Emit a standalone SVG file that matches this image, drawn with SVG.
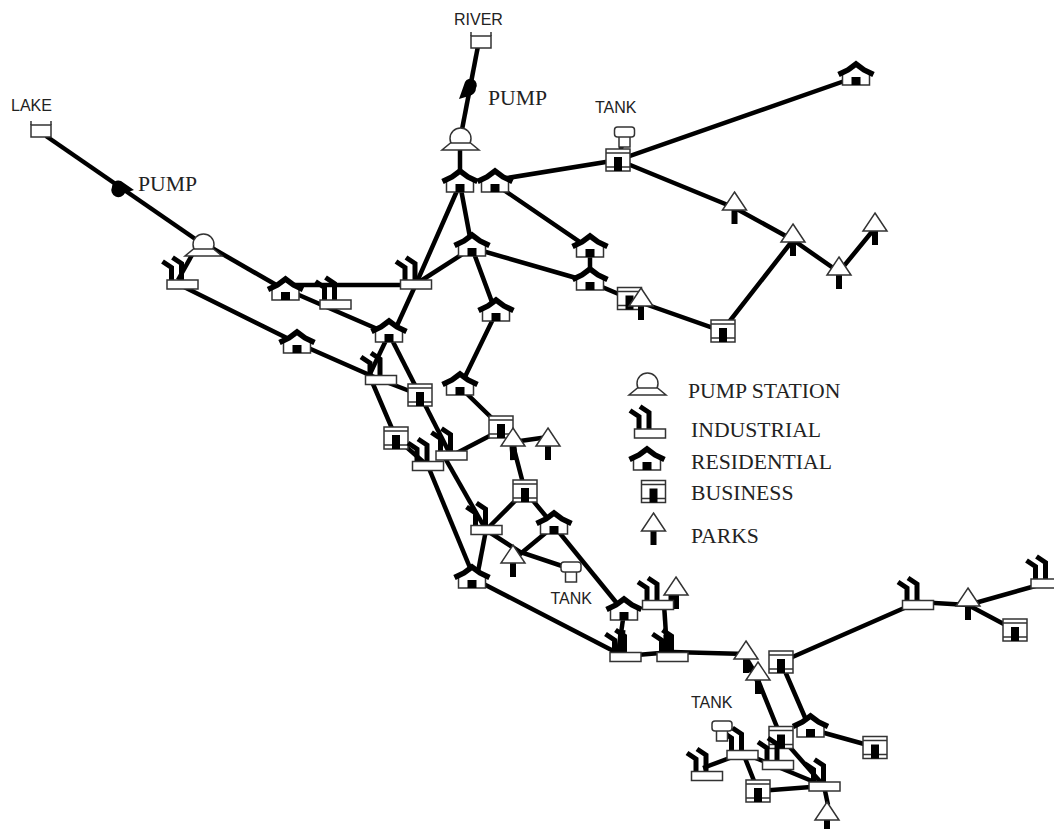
<svg xmlns="http://www.w3.org/2000/svg" width="1054" height="829" viewBox="0 0 1054 829">
<style>
.bg{fill:#fff}
.c{fill:none;stroke:#000;stroke-width:4.5;stroke-linecap:butt}
.w{fill:none;stroke:#000;stroke-width:7}
.o{fill:#fff;stroke:#333;stroke-width:1.5}
.k{fill:#000}
.r{fill:none;stroke:#000;stroke-width:5.5}
.ch{fill:none;stroke:#000;stroke-width:5}
.t{font-family:"Liberation Serif","Times New Roman",serif;font-size:21.7px;fill:#222}
.s{font-family:"Liberation Sans",Arial,sans-serif;font-size:16px;fill:#222}
</style>
<defs>
<g id="house">
<path class="o" d="M-13.5,-4 L0,-13 L13.5,-4 V8 H-13.5 Z"/>
<path class="r" d="M-17.5,-2.5 L-8,-7 L0,-13 L8,-7 L17.5,-2.5"/>
<rect class="k" x="-4.5" y="0" width="9" height="8"/>
</g>
<g id="biz">
<rect class="o" x="-12" y="-11" width="24" height="22"/>
<path class="o" d="M-12,-7 H12 M-12,7 H12" fill="none"/>
<rect class="k" x="-4" y="-3" width="8" height="14"/>
</g>
<g id="park">
<rect class="k" x="-3" y="17" width="6" height="15"/>
<path class="o" d="M0,0 L12,18 H-12 Z"/>
</g>
<g id="ind">
<path class="ch" stroke-width="4" d="M-20,-23 L-11,-17 V-4"/>
<path class="ch" stroke-width="4" d="M-10,-27 L-1,-21 V-4"/>
<rect class="o" x="-15.5" y="-4.5" width="31" height="9"/>
</g>
<g id="station">
<circle class="o" cx="0" cy="-11.5" r="10.5"/>
<path class="o" d="M-10,-7 H10 L18.5,0 H-18.5 Z"/>
</g>
<g id="tank">
<rect class="o" x="-5.5" y="9" width="11" height="11"/>
<rect class="o" x="-10" y="0" width="20" height="10" rx="3"/>
</g>
<g id="source">
<rect class="o" x="-10" y="-6" width="20" height="12"/>
<path class="o" d="M-10,-6 V-10 M10,-6 V-10" fill="none"/>
</g>
</defs>
<rect class="bg" width="1054" height="829"/>
<g id="connectors">
<path class="c" d="M46,136 L204,245"/>
<path class="c" d="M478,46 L460,140"/>
<path class="c" d="M460,150 L460,184"/>
<path class="c" d="M212,248 L285,290"/>
<path class="c" d="M192,255 L178,280"/>
<path class="c" d="M182,286 L297,343 L381,380"/>
<path class="c" d="M285,289 L389,334"/>
<path class="c" d="M290,285 H416"/>
<path class="c" d="M381,380 L420,395"/>
<path class="c" d="M373,384 L396,438 L428,466"/>
<path class="c" d="M389,334 L368,378"/>
<path class="c" d="M389,334 L420,395 L451,456"/>
<path class="c" d="M395,330 L416,284 L460,184"/>
<path class="c" d="M416,284 L472,248"/>
<path class="c" d="M460,184 L472,248"/>
<path class="c" d="M428,466 L473,575"/>
<path class="c" d="M445,458 L486,530"/>
<path class="c" d="M486,530 L477,577"/>
<path class="c" d="M472,578 L625,657"/>
<path class="c" d="M495,180 L618,160 L856,77"/>
<path class="c" d="M622,145 L618,160"/>
<path class="c" d="M618,160 L735,208 L793,240 L839,272 L875,228"/>
<path class="c" d="M495,184 L590,249 L590,282"/>
<path class="c" d="M472,248 L590,282 L628,298 L722,331 L793,240"/>
<path class="c" d="M472,248 L496,313 L460,387 L501,427"/>
<path class="c" d="M501,430 L451,456"/>
<path class="c" d="M513,442 L548,437"/>
<path class="w" d="M513,446 L514,460"/>
<path class="c" d="M513,445 L525,491 L554,526 L513,560"/>
<path class="c" d="M525,491 L486,530"/>
<path class="c" d="M486,530 L520,552 L571,569"/>
<path class="c" d="M554,526 L624,612"/>
<path class="c" d="M624,612 L618,655"/>
<path class="w" d="M622,630 L620,652"/>
<path class="c" d="M664,604 L667,650"/>
<path class="w" d="M667,635 V652"/>
<path class="c" d="M625,656 L672,652 L746,654"/>
<path class="w" d="M672,590 V607"/>
<path class="c" d="M781,662 L918,602 L968,605 L1015,630"/>
<path class="c" d="M968,605 L1046,583"/>
<path class="w" d="M746,660 L758,680"/>
<path class="c" d="M746,660 L758,680 L781,737"/>
<path class="c" d="M781,662 L810,729 L875,747"/>
<path class="c" d="M781,737 L824,786"/>
<path class="c" d="M743,753 L703,768"/>
<path class="c" d="M743,753 L758,791 L824,786"/>
<path class="c" d="M743,753 L778,767 L824,786"/>
<path class="c" d="M824,786 L828,805"/>
</g>
<g id="lake"><use href="#source" x="41" y="131"/></g>
<g id="river"><use href="#source" x="481" y="42"/></g>
<g id="pump1"><path class="k" d="M112,187 a6.5,6.5 0 0 1 9,-6 l13,9 l-9,3 a7,7 0 0 1 -13,-6Z"/></g>
<g id="pump2"><path class="k" d="M476,88 a6,6 0 0 0 -11,-6 l-6,17 l10,-3 a8,8 0 0 0 7,-8Z"/></g>
<g id="st1"><use href="#station" x="203.5" y="256"/></g>
<g id="st2"><use href="#station" x="460.5" y="150"/></g>
<g id="h1"><use href="#house" x="856" y="77"/></g>
<g id="h2"><use href="#house" x="460" y="184"/></g>
<g id="h3"><use href="#house" x="495" y="184"/></g>
<g id="h4"><use href="#house" x="590" y="249"/></g>
<g id="h5"><use href="#house" x="590" y="282"/></g>
<g id="h6"><use href="#house" x="472" y="248"/></g>
<g id="h7"><use href="#house" x="496" y="313"/></g>
<g id="h8"><use href="#house" x="285.5" y="292"/></g>
<g id="h9"><use href="#house" x="297" y="345"/></g>
<g id="h10"><use href="#house" x="389" y="334"/></g>
<g id="h11"><use href="#house" x="460" y="387"/></g>
<g id="h12"><use href="#house" x="472" y="580"/></g>
<g id="h13"><use href="#house" x="554" y="526"/></g>
<g id="h14"><use href="#house" x="624" y="612"/></g>
<g id="h15"><use href="#house" x="810.5" y="729"/></g>
<g id="b1"><use href="#biz" x="618" y="160"/></g>
<g id="b2"><use href="#biz" x="723" y="331"/></g>
<g id="b3"><use href="#biz" x="629.5" y="298.5"/></g>
<g id="b4"><use href="#biz" x="420" y="395"/></g>
<g id="b5"><use href="#biz" x="396" y="438"/></g>
<g id="b6"><use href="#biz" x="501" y="427"/></g>
<g id="b7"><use href="#biz" x="525" y="491"/></g>
<g id="b8"><use href="#biz" x="781" y="662"/></g>
<g id="b9"><use href="#biz" x="781" y="737.5"/></g>
<g id="b10"><use href="#biz" x="875" y="747.5"/></g>
<g id="b11"><use href="#biz" x="758" y="791"/></g>
<g id="b12"><use href="#biz" x="1015" y="630"/></g>
<g id="p1"><use href="#park" x="734.5" y="192"/></g>
<g id="p2"><use href="#park" x="793" y="224"/></g>
<g id="p3"><use href="#park" x="839" y="257"/></g>
<g id="p4"><use href="#park" x="875" y="213"/></g>
<g id="p5"><use href="#park" x="641" y="288"/></g>
<g id="p6"><use href="#park" x="513" y="428"/></g>
<g id="p7"><use href="#park" x="548" y="428"/></g>
<g id="p8"><use href="#park" x="513" y="545"/></g>
<g id="p9"><use href="#park" x="676" y="577"/></g>
<g id="p10"><use href="#park" x="746" y="641"/></g>
<g id="p11"><use href="#park" x="758" y="662"/></g>
<g id="p12"><use href="#park" x="968" y="588"/></g>
<g id="p13"><use href="#park" x="827" y="802"/></g>
<g id="i1"><use href="#ind" x="182.5" y="284.5"/></g>
<g id="i2"><use href="#ind" x="416" y="284.5"/></g>
<g id="i3"><use href="#ind" x="335.5" y="304.5"/></g>
<g id="i4"><use href="#ind" x="381" y="380"/></g>
<g id="i5"><use href="#ind" x="428" y="466"/></g>
<g id="i6"><use href="#ind" x="451.5" y="455.5"/></g>
<g id="i7"><use href="#ind" x="486.5" y="530"/></g>
<g id="i8"><use href="#ind" x="625.5" y="657"/></g>
<g id="i9"><use href="#ind" x="672.5" y="657"/></g>
<g id="i10"><use href="#ind" x="658" y="605"/></g>
<g id="i11"><use href="#ind" x="918" y="605"/></g>
<g id="i12"><use href="#ind" x="1046.5" y="583.5"/></g>
<g id="i13"><use href="#ind" x="742.5" y="755"/></g>
<g id="i14"><use href="#ind" x="707" y="776"/></g>
<g id="i15"><use href="#ind" x="778" y="765"/></g>
<g id="i16"><use href="#ind" x="824.5" y="786.5"/></g>
<g id="t1"><use href="#tank" x="624.5" y="127"/></g>
<g id="t2"><use href="#tank" x="571" y="562"/></g>
<g id="t3"><use href="#tank" x="722" y="721"/></g>
<g id="labels">
<text class="s" x="11" y="110.7">LAKE</text>
<text class="s" x="454" y="25">RIVER</text>
<text class="s" x="595" y="113">TANK</text>
<text class="s" x="550.5" y="604">TANK</text>
<text class="s" x="691" y="708">TANK</text>
<text class="t" x="138" y="191">PUMP</text>
<text class="t" x="488" y="105">PUMP</text>
</g>
<g id="legend">
<use href="#station" x="647.5" y="395"/>
<use href="#ind" x="650" y="433.5"/>
<use href="#house" x="647" y="462"/>
<use href="#biz" x="653.5" y="491.5"/>
<use href="#park" x="653.5" y="513"/>
<text class="t" x="688" y="398">PUMP STATION</text>
<text class="t" x="691" y="436.5">INDUSTRIAL</text>
<text class="t" x="691" y="469">RESIDENTIAL</text>
<text class="t" x="691" y="500">BUSINESS</text>
<text class="t" x="691" y="543">PARKS</text>
</g>
</svg>
